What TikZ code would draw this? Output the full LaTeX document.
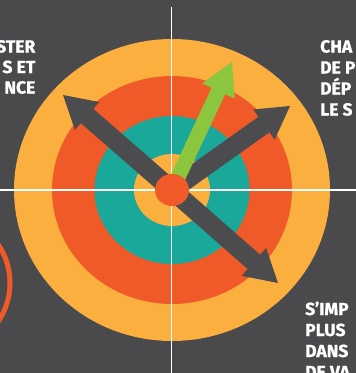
\documentclass[tikz,border=0pt]{standalone}
\usepackage{fontspec}
\setmainfont{Fira Sans}[BoldFeatures={FakeBold=1}]
\usetikzlibrary{calc}
\definecolor{bg}{HTML}{4A494C}
\definecolor{arrowgray}{HTML}{4C4C4E}
\definecolor{ryellow}{HTML}{FBAF3F}
\definecolor{rorange}{HTML}{F05A28}
\definecolor{rteal}{HTML}{19A89A}
\definecolor{rgreen}{HTML}{8CC63F}
\newcommand{\fatarrowpoly}[6]{%
  % #1 tail, #2 tip, #3 shaft half width, #4 head half width, #5 head length, #6 colour
  \coordinate (abase) at ($(#2)!#5pt!(#1)$);
  \fill[#6] ($(#1)!#3pt!90:(#2)$) -- ($(abase)!#3pt!90:(#2)$)
    -- ($(abase)!#4pt!90:(#2)$) -- (#2)
    -- ($(abase)!#4pt!-90:(#2)$) -- ($(abase)!#3pt!-90:(#2)$)
    -- ($(#1)!#3pt!-90:(#2)$) -- cycle;}
\tikzset{
  lbl/.style={text=white, font=\fontsize{17.5}{21}\selectfont\bfseries, inner sep=0pt},
  guide/.style={draw=white, line width=1.8pt},
}
\begin{document}
\begin{tikzpicture}[x=1pt,y=-1pt]
\fill[bg] (0,0) rectangle (356,373);
\useasboundingbox (0,0) rectangle (356,373);
\coordinate (c) at (172,190);
% target rings
\fill[ryellow] (c) ellipse [x radius=158, y radius=151];
\fill[rorange] (c) ellipse [x radius=120, y radius=114];
\fill[rteal] (c) ellipse [x radius=77.5, y radius=74];
\fill[ryellow] (c) ellipse [x radius=38, y radius=36];
% partial ring at left
\draw[rorange, line width=5pt] (-64,283) ellipse [x radius=74, y radius=71];
% guide lines
\coordinate (vtop) at (171.5,7);
\coordinate (vbot) at (171.5,373);
\coordinate (hl) at (0,190);
\coordinate (hr) at (356,190);
\draw[guide] (vtop) -- (vbot);
\draw[guide] (hl) -- (hr);
% arrows
\coordinate (tUL) at (63,95);
\coordinate (tLR) at (278,283);
\coordinate (tUR) at (290,106);
\coordinate (tG) at (232,62);
\fatarrowpoly{c}{tUL}{9.5}{18.5}{32}{arrowgray}
\fatarrowpoly{c}{tLR}{9.5}{18.5}{32}{arrowgray}
\fatarrowpoly{c}{tUR}{9.5}{18.5}{32}{arrowgray}
\fatarrowpoly{c}{tG}{7.5}{18}{32}{rgreen}
% centre dot
\fill[rorange] (c) ellipse [x radius=17, y radius=16];
% texts
\node[lbl, anchor=base east] (l1) at (35.5,52.5) {STER};
\node[lbl, anchor=base east] (l2) at (35.5,73) {S ET};
\node[lbl, anchor=base east] (l3) at (35.5,93.5) {NCE};
\node[lbl, anchor=base west] (r1) at (320,52.5) {CHA};
\node[lbl, anchor=base west] (r2) at (320,73.5) {DE P};
\node[lbl, anchor=base west] (r3) at (320,94.5) {DÉP};
\node[lbl, anchor=base west] (r4) at (320,115.5) {LE S};
\node[lbl, anchor=base west] (b1) at (305,315) {S’IMP};
\node[lbl, anchor=base west] (b2) at (305,336) {PLUS};
\node[lbl, anchor=base west] (b3) at (305,357) {DANS};
\node[lbl, anchor=base west] (b4) at (305,378) {DE VA};
\end{tikzpicture}
\end{document}
